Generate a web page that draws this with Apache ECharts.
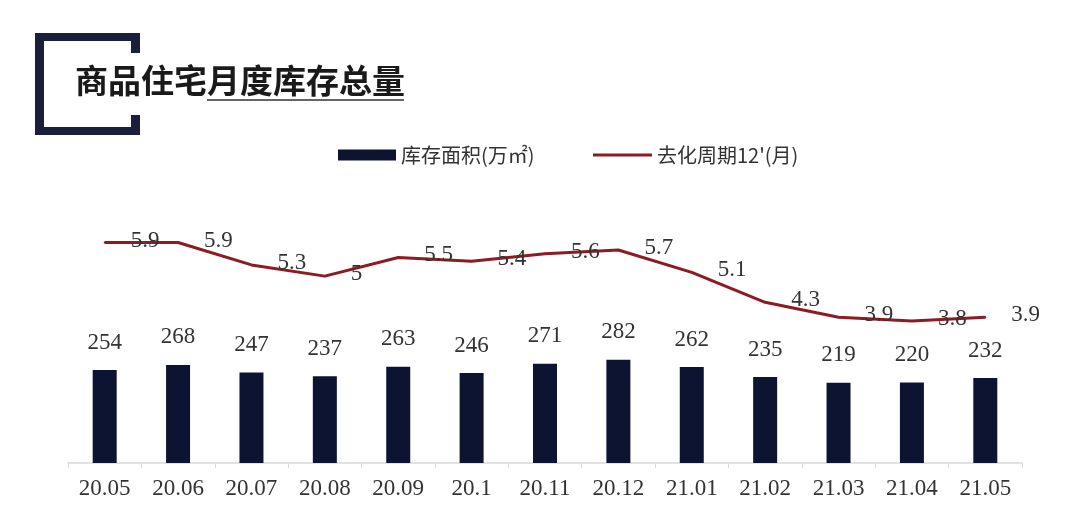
<!DOCTYPE html>
<html>
<head>
<meta charset="utf-8">
<script src="https://cdn.jsdelivr.net/npm/echarts@6/dist/echarts.min.js"></script>
<style>
html,body{margin:0;padding:0;background:#fff;}
#c{width:1080px;height:528px;}
</style>
</head>
<body>
<div id="c"></div>
<script>
const categories = ['20.05','20.06','20.07','20.08','20.09','20.1','20.11','20.12','21.01','21.02','21.03','21.04','21.05'];
const inventory = [254, 268, 247, 237, 263, 246, 271, 282, 262, 235, 219, 220, 232];
const cycle = [5.9, 5.9, 5.3, 5, 5.5, 5.4, 5.6, 5.7, 5.1, 4.3, 3.9, 3.8, 3.9];
const barName = '库存面积(万㎡)';
const lineName = "去化周期12'(月)";
const titleText = '商品住宅月度库存总量';

const navy = '#0c1432';
const red = '#8e1b22';
const serif = '"Liberation Serif", "DejaVu Serif", serif';
const cjk = '"Noto Sans CJK SC", "Noto Sans", sans-serif';

const chart = echarts.init(document.getElementById('c'));
chart.setOption({
  backgroundColor: '#ffffff',
  animation: false,
  graphic: [
    { type: 'rect', shape: { x: 35, y: 33, width: 9, height: 102 }, style: { fill: '#1b1f3b' } },
    { type: 'rect', shape: { x: 35, y: 33, width: 105, height: 8 }, style: { fill: '#1b1f3b' } },
    { type: 'rect', shape: { x: 35, y: 127, width: 105, height: 8 }, style: { fill: '#1b1f3b' } },
    { type: 'rect', shape: { x: 131, y: 33, width: 9, height: 20 }, style: { fill: '#1b1f3b' } },
    { type: 'rect', shape: { x: 131, y: 115, width: 9, height: 20 }, style: { fill: '#1b1f3b' } },
    { type: 'text', left: 75, top: 64, style: { text: titleText, font: 'bold 33px "Noto Sans CJK SC", sans-serif', fill: '#1a1a1a' } },
    { type: 'line', shape: { x1: 207, y1: 100, x2: 404, y2: 100 }, style: { stroke: '#333', lineWidth: 1.5 } }
  ],
  legend: [
    {
      data: [barName], left: 333, top: 140, itemWidth: 58, itemHeight: 11, icon: 'rect',
      textStyle: { fontFamily: cjk, fontSize: 20, color: '#333' }
    },
    {
      data: [lineName], left: 588, top: 140, itemWidth: 59, itemHeight: 3, icon: 'rect',
      textStyle: { fontFamily: cjk, fontSize: 20, color: '#333' }
    }
  ],
  grid: { left: 68, right: 58, top: 164, bottom: 65 },
  xAxis: {
    type: 'category',
    data: categories,
    axisLine: { lineStyle: { color: '#d9d9d9', width: 1.5 } },
    axisTick: { show: true, length: 5, lineStyle: { color: '#d9d9d9' } },
    axisLabel: { interval: 0, fontFamily: serif, fontSize: 23, color: '#333', margin: 14 }
  },
  yAxis: [
    { type: 'value', min: 0, max: 817, show: false, splitLine: { show: false } },
    { type: 'value', min: 0, max: 8, show: false, splitLine: { show: false } }
  ],
  series: [
    {
      name: barName, type: 'bar', data: inventory, barWidth: 24, yAxisIndex: 0,
      itemStyle: { color: navy },
      label: { show: true, position: 'top', distance: 16, fontFamily: serif, fontSize: 23, color: '#333' }
    },
    {
      name: lineName, type: 'line', data: cycle, yAxisIndex: 1,
      symbol: 'circle', symbolSize: 2, smooth: false,
      itemStyle: { color: red },
      lineStyle: { color: red, width: 3, join: 'round' },
      label: { show: true, position: 'right', distance: 25, offset: [0, -2], fontFamily: serif, fontSize: 23, color: '#333' },
      z: 3
    }
  ]
});
</script>
</body>
</html>
